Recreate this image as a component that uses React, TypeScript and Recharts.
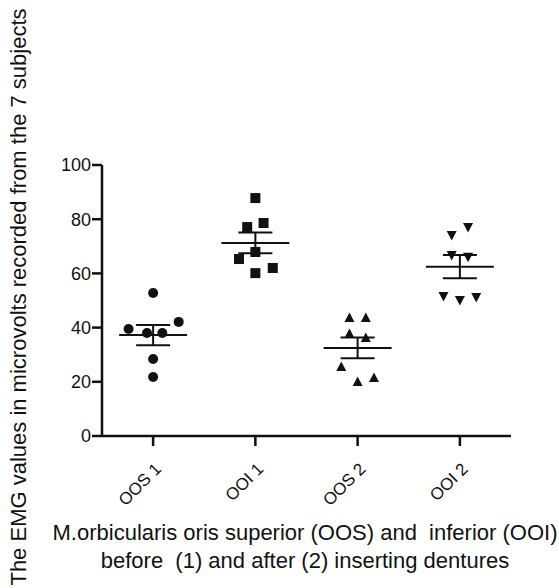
import React from "react";
import {
  ComposedChart,
  Scatter,
  XAxis,
  YAxis,
  ErrorBar,
} from "recharts";

/* ── Data ───────────────────────────────────────────────────── */

const CATEGORIES = ["OOS 1", "OOI 1", "OOS 2", "OOI 2"];
const Y_TICKS = [0, 20, 40, 60, 80, 100];

// values for the 7 subjects, and their horizontal scatter offsets
const OOS1_VALUES = [52.8, 42.1, 39.5, 38.0, 38.0, 28.4, 21.8];
const OOS1_JITTER = [0, 0.25, -0.24, -0.06, 0.09, 0, 0];

const OOI1_VALUES = [87.8, 78.6, 77.1, 67.9, 65.3, 62.0, 60.1];
const OOI1_JITTER = [0, 0.08, -0.08, 0, -0.16, 0.17, 0];

const OOS2_VALUES = [43.5, 43.5, 37.6, 36.2, 25.5, 21.4, 19.9];
const OOS2_JITTER = [-0.08, 0.08, -0.08, 0.08, -0.16, 0.16, 0];

const OOI2_VALUES = [77.1, 74.2, 66.8, 66.1, 51.7, 50.2, 51.3];
const OOI2_JITTER = [0.08, -0.08, -0.08, 0.08, -0.16, 0, 0.16];

const X_TITLE = [
  "M.orbicularis oris superior (OOS) and \u00a0inferior (OOI)",
  "before \u00a0(1) and after (2) inserting dentures",
];
const Y_TITLE = "The EMG values in microvolts recorded from the 7 subjects";

/* ── Helpers ────────────────────────────────────────────────── */

const FONT = "'Liberation Sans', Arial, sans-serif";
const INK = "#111";

function points(group: number, values: number[], jitter: number[]) {
  return values.map((v, i) => ({ x: group + jitter[i], y: v }));
}

function meanSem(group: number, values: number[]) {
  const n = values.length;
  const mean = values.reduce((a, b) => a + b, 0) / n;
  const sd = Math.sqrt(values.reduce((a, b) => a + (b - mean) ** 2, 0) / (n - 1));
  return { x: group, y: mean, sem: sd / Math.sqrt(n) };
}

const summary = [
  meanSem(1, OOS1_VALUES),
  meanSem(2, OOI1_VALUES),
  meanSem(3, OOS2_VALUES),
  meanSem(4, OOI2_VALUES),
];

/* ── Marker shapes ──────────────────────────────────────────── */

const Dot = ({ cx, cy }: any) => <circle cx={cx} cy={cy} r={5} fill={INK} />;
const Square = ({ cx, cy }: any) => (
  <rect x={cx - 5} y={cy - 5} width={10} height={10} fill={INK} />
);
const TriUp = ({ cx, cy }: any) => (
  <polygon points={`${cx},${cy - 5.5} ${cx + 5},${cy + 4} ${cx - 5},${cy + 4}`} fill={INK} />
);
const TriDown = ({ cx, cy }: any) => (
  <polygon points={`${cx},${cy + 5.5} ${cx + 5},${cy - 4} ${cx - 5},${cy - 4}`} fill={INK} />
);
const MeanLine = ({ cx, cy }: any) => (
  <line x1={cx - 34} x2={cx + 34} y1={cy} y2={cy} stroke={INK} strokeWidth={2} />
);

const XTick = ({ x, y, payload }: any) => {
  const ax = x + 9;
  const ay = y + 22;
  return (
    <text
      x={ax}
      y={ay}
      textAnchor="end"
      transform={`rotate(-45 ${ax} ${ay})`}
      fontSize={17}
      fontFamily={FONT}
      fill={INK}
    >
      {CATEGORIES[payload.value - 1]}
    </text>
  );
};

const XTitle = () => (
  <text x={305} textAnchor="middle" fontSize={22} fontFamily={FONT} fill={INK}>
    <tspan x={305} y={540}>{X_TITLE[0]}</tspan>
    <tspan x={305} y={568}>{X_TITLE[1]}</tspan>
  </text>
);

const YTitle = () => (
  <text
    x={26}
    y={297}
    textAnchor="middle"
    transform="rotate(-90 26 297)"
    fontSize={22}
    fontFamily={FONT}
    fill={INK}
  >
    {Y_TITLE}
  </text>
);

/* ── Component ──────────────────────────────────────────────── */

export default function App() {
  return (
    <div style={{ position: "absolute", left: 0, top: 0, width: 559, height: 588, background: "#fff" }}>
      <ComposedChart
        width={559}
        height={588}
        margin={{ top: 165, right: 48, bottom: 0, left: 0 }}
      >
        <XAxis
          type="number"
          dataKey="x"
          domain={[0.5, 4.5]}
          ticks={[1, 2, 3, 4]}
          height={152}
          tickSize={10}
          tick={<XTick />}
          axisLine={{ stroke: INK, strokeWidth: 2.5 }}
          tickLine={{ stroke: INK, strokeWidth: 2.5 }}
          label={{ content: <XTitle /> }}
          allowDataOverflow
        />
        <YAxis
          type="number"
          dataKey="y"
          domain={[0, 100]}
          ticks={Y_TICKS}
          width={102}
          tickSize={10}
          tickMargin={1}
          tick={{ fontSize: 18, fontFamily: FONT, fill: INK }}
          axisLine={{ stroke: INK, strokeWidth: 2.5 }}
          tickLine={{ stroke: INK, strokeWidth: 2.5 }}
          label={{ content: <YTitle /> }}
        />
        <Scatter data={points(1, OOS1_VALUES, OOS1_JITTER)} shape={<Dot />} isAnimationActive={false} />
        <Scatter data={points(2, OOI1_VALUES, OOI1_JITTER)} shape={<Square />} isAnimationActive={false} />
        <Scatter data={points(3, OOS2_VALUES, OOS2_JITTER)} shape={<TriUp />} isAnimationActive={false} />
        <Scatter data={points(4, OOI2_VALUES, OOI2_JITTER)} shape={<TriDown />} isAnimationActive={false} />
        <Scatter data={summary} shape={<MeanLine />} isAnimationActive={false}>
          <ErrorBar dataKey="sem" direction="y" width={17} stroke={INK} strokeWidth={2} />
        </Scatter>
      </ComposedChart>
    </div>
  );
}
